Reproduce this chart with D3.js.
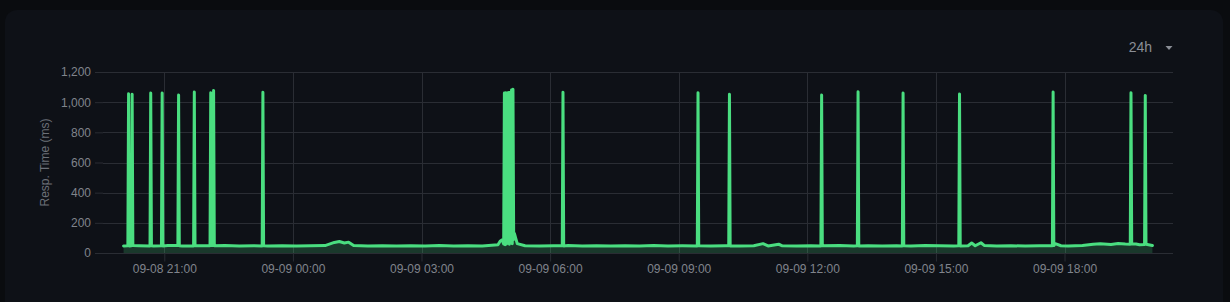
<!DOCTYPE html>
<html>
<head>
<meta charset="utf-8">
<script src="https://cdn.jsdelivr.net/npm/d3@7"></script>
<style>
  html, body { margin: 0; padding: 0; background: #0a0c0f; }
  body { width: 1230px; height: 302px; overflow: hidden; }
  text { font-family: "Liberation Sans", Arial, sans-serif; }
</style>
</head>
<body>
<div id="chart"></div>
<script>
// response time samples (ms)
const baseline = [
  ["09-08 20:03", 47], ["09-08 20:25", 48], ["09-08 20:45", 46], ["09-08 21:05", 49],
  ["09-08 21:25", 47], ["09-08 21:45", 48], ["09-08 22:25", 50], ["09-08 22:45", 47],
  ["09-08 23:05", 48], ["09-08 23:25", 46], ["09-08 23:45", 48],
  ["09-09 00:05", 47], ["09-09 00:25", 48], ["09-09 00:45", 49], ["09-09 00:58", 70],
  ["09-09 01:05", 76], ["09-09 01:12", 66], ["09-09 01:18", 72], ["09-09 01:25", 50],
  ["09-09 01:45", 47], ["09-09 02:05", 48], ["09-09 02:25", 46], ["09-09 02:45", 48],
  ["09-09 03:05", 47], ["09-09 03:25", 49], ["09-09 03:45", 46], ["09-09 04:05", 48],
  ["09-09 04:25", 47], ["09-09 04:47", 55], ["09-09 04:50", 78], ["09-09 04:53", 88],
  ["09-09 04:55", 60], ["09-09 05:10", 130], ["09-09 05:12", 95], ["09-09 05:14", 62],
  ["09-09 05:25", 48], ["09-09 05:45", 47], ["09-09 06:05", 48], ["09-09 06:25", 49],
  ["09-09 06:45", 47], ["09-09 07:05", 48], ["09-09 07:25", 46], ["09-09 07:45", 48],
  ["09-09 08:05", 47], ["09-09 08:25", 49], ["09-09 08:45", 47], ["09-09 09:05", 48],
  ["09-09 09:45", 46], ["09-09 10:05", 48], ["09-09 10:25", 47], ["09-09 10:45", 48],
  ["09-09 10:58", 62], ["09-09 11:05", 47], ["09-09 11:20", 58], ["09-09 11:25", 48],
  ["09-09 11:45", 47], ["09-09 12:05", 48], ["09-09 12:45", 49], ["09-09 13:05", 47],
  ["09-09 13:25", 48], ["09-09 13:45", 46], ["09-09 14:05", 48], ["09-09 14:25", 47],
  ["09-09 14:45", 49], ["09-09 15:05", 48], ["09-09 15:25", 47], ["09-09 15:45", 48],
  ["09-09 15:50", 66], ["09-09 15:55", 48], ["09-09 16:03", 68], ["09-09 16:08", 49],
  ["09-09 16:25", 47], ["09-09 16:45", 48], ["09-09 17:05", 46], ["09-09 17:25", 48],
  ["09-09 17:47", 62], ["09-09 17:55", 48], ["09-09 18:05", 47], ["09-09 18:25", 50],
  ["09-09 18:40", 58], ["09-09 18:50", 62], ["09-09 19:05", 57], ["09-09 19:15", 63],
  ["09-09 19:25", 59], ["09-09 19:40", 60], ["09-09 19:45", 55], ["09-09 20:03", 50]
]

// the ~1s timeouts, each with the sample before and after
const spikes = [
  ["09-08 20:09", 48], ["09-08 20:10", 1056], ["09-08 20:11", 47],
  ["09-08 20:14", 48], ["09-08 20:15", 1052], ["09-08 20:16", 49],
  ["09-08 20:40", 47], ["09-08 20:41", 1060], ["09-08 20:42", 48],
  ["09-08 20:56", 48], ["09-08 20:57", 1060], ["09-08 20:58", 47],
  ["09-08 21:19", 49], ["09-08 21:20", 1047], ["09-08 21:21", 48],
  ["09-08 21:41", 47], ["09-08 21:42", 1067], ["09-08 21:43", 48],
  ["09-08 22:04", 48], ["09-08 22:05", 1063], ["09-08 22:06", 50],
  ["09-08 22:08", 49], ["09-08 22:09", 1078], ["09-08 22:10", 48],
  ["09-08 23:17", 47], ["09-08 23:18", 1065], ["09-08 23:19", 48],
  ["09-09 04:56", 1060], ["09-09 04:57", 55], ["09-09 04:58", 1062], ["09-09 04:59", 60],
  ["09-09 05:00", 1060], ["09-09 05:01", 70], ["09-09 05:02", 1064], ["09-09 05:03", 58],
  ["09-09 05:04", 1066], ["09-09 05:05", 75], ["09-09 05:06", 1080], ["09-09 05:07", 62],
  ["09-09 05:08", 1085], ["09-09 05:09", 90],
  ["09-09 06:17", 48], ["09-09 06:18", 1065], ["09-09 06:19", 47],
  ["09-09 09:26", 47], ["09-09 09:27", 1063], ["09-09 09:28", 48],
  ["09-09 10:10", 48], ["09-09 10:11", 1052], ["09-09 10:12", 47],
  ["09-09 12:19", 47], ["09-09 12:20", 1047], ["09-09 12:21", 48],
  ["09-09 13:10", 48], ["09-09 13:11", 1069], ["09-09 13:12", 47],
  ["09-09 14:13", 47], ["09-09 14:14", 1060], ["09-09 14:15", 48],
  ["09-09 15:32", 48], ["09-09 15:33", 1054], ["09-09 15:34", 47],
  ["09-09 17:43", 48], ["09-09 17:44", 1067], ["09-09 17:45", 49],
  ["09-09 19:32", 58], ["09-09 19:33", 1063], ["09-09 19:34", 60],
  ["09-09 19:52", 57], ["09-09 19:53", 1045], ["09-09 19:54", 58]
]

const yTicks = [0, 200, 400, 600, 800, 1000, 1200]
const rangeLabel = "24h"
const yLabel = "Resp. Time (ms)"

const width = 1230, height = 302
const margin = {top: 72, right: 57, bottom: 49, left: 103}
const lineColor = '#4ade80'
const gridColor = '#2a2d34'
const textColor = '#80848c'

const parse = d3.timeParse('%m-%d %H:%M')
const data = baseline.concat(spikes)
  .map(d => ({t: parse(d[0]), v: d[1]}))
  .sort((a, b) => a.t - b.t)

const svg = d3.select('#chart').append('svg')
  .attr('width', width)
  .attr('height', height)

// card
svg.append('rect')
  .attr('x', 5).attr('y', 10)
  .attr('width', 1218).attr('height', 320)
  .attr('rx', 12)
  .attr('fill', '#0e1117')

let ext = d3.extent(data, d => d.t)
let pad = (ext[1] - ext[0]) * 0.02

const x = d3.scaleTime()
  .domain([new Date(+ext[0] - pad), new Date(+ext[1] + pad)])
  .range([margin.left, width - margin.right])

const y = d3.scaleLinear()
  .domain([0, 1200])
  .range([height - margin.bottom, margin.top])

const xTicks = x.ticks(d3.timeHour.every(3))

// grid
svg.append('g')
  .selectAll('line')
  .data(yTicks)
  .enter()
  .append('line')
  .attr('x1', margin.left).attr('x2', width - margin.right)
  .attr('y1', d => Math.round(y(d)) + 0.5).attr('y2', d => Math.round(y(d)) + 0.5)
  .attr('stroke', gridColor)

svg.append('g')
  .selectAll('line')
  .data(xTicks)
  .enter()
  .append('line')
  .attr('x1', d => Math.round(x(d)) + 0.5).attr('x2', d => Math.round(x(d)) + 0.5)
  .attr('y1', margin.top).attr('y2', height - margin.bottom)
  .attr('stroke', gridColor)

// axes
const xAxis = svg.append('g')
  .attr('transform', `translate(0,${Math.round(y(0)) + 0.5})`)
  .call(d3.axisBottom(x).tickValues(xTicks).tickFormat(d3.timeFormat('%m-%d %H:%M')).tickSize(8).tickPadding(3))

const yAxis = svg.append('g')
  .attr('transform', `translate(${margin.left},0)`)
  .call(d3.axisLeft(y).tickValues(yTicks).tickFormat(d3.format(',')).tickSize(8).tickPadding(4))

;[xAxis, yAxis].forEach(a => {
  a.select('.domain').remove()
  a.selectAll('.tick line').attr('stroke', gridColor)
  a.selectAll('.tick text')
    .attr('fill', textColor)
    .style('font-size', '12px')
    .style('font-family', '"Liberation Sans", Arial, sans-serif')
})

svg.append('text')
  .attr('transform', `translate(49,${(margin.top + height - margin.bottom) / 2}) rotate(-90)`)
  .attr('text-anchor', 'middle')
  .attr('fill', '#6c7078')
  .style('font-size', '12px')
  .text(yLabel)

// series
const area = d3.area()
  .x(d => x(d.t))
  .y0(y(0))
  .y1(d => y(d.v))

const line = d3.line()
  .x(d => x(d.t))
  .y(d => y(d.v))

svg.append('path')
  .datum(data)
  .attr('d', area)
  .attr('fill', lineColor)
  .attr('fill-opacity', 0.2)

svg.append('path')
  .datum(data)
  .attr('d', line)
  .attr('fill', 'none')
  .attr('stroke', lineColor)
  .attr('stroke-width', 3)
  .attr('stroke-linejoin', 'round')
  .attr('stroke-linecap', 'round')

// range picker
svg.append('text')
  .attr('x', 1152).attr('y', 52)
  .attr('text-anchor', 'end')
  .attr('fill', '#8a8e96')
  .style('font-size', '14px')
  .text(rangeLabel)

svg.append('path')
  .attr('d', 'M1165.5,46 L1172.5,46 L1169,50 Z')
  .attr('fill', '#8a8e96')
</script>
</body>
</html>
